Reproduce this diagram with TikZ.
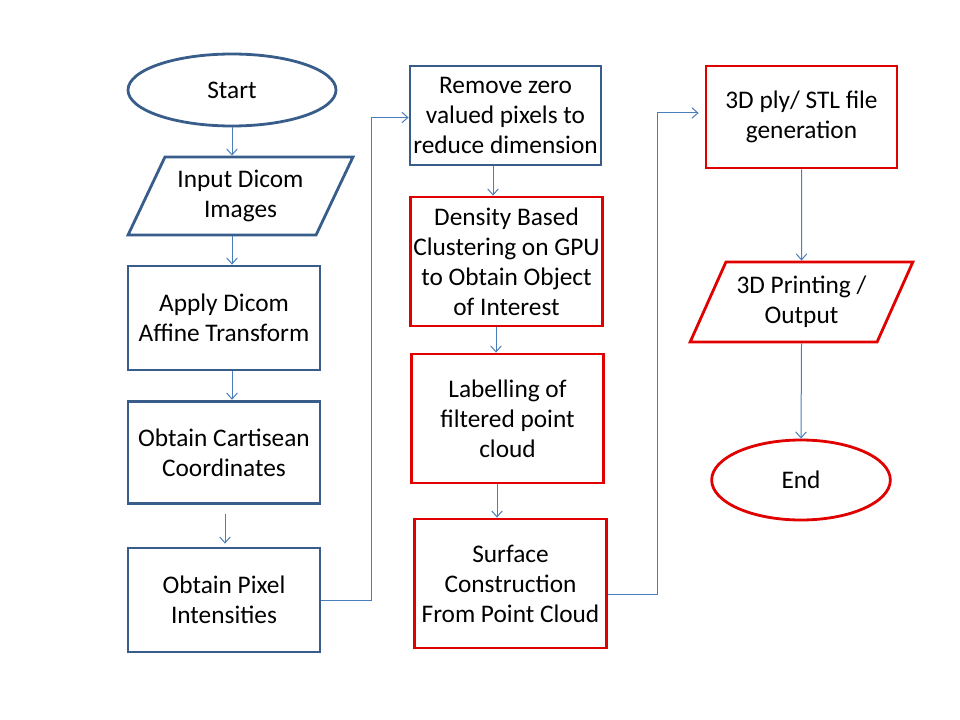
\documentclass[tikz,border=0pt]{standalone}
\usepackage{fontspec}
\setmainfont{Carlito}
\usepackage{tikz}
\usetikzlibrary{arrows.meta,shapes.geometric,calc}
\definecolor{boxblue}{RGB}{56,93,138}
\definecolor{boxred}{RGB}{224,0,0}
\definecolor{linkblue}{RGB}{74,126,187}
\tikzset{
  blk/.style={draw, line width=2.1pt, align=center, inner sep=1pt,
    font=\fontsize{19}{22.5}\selectfont},
  procbox/.style={blk, rectangle, minimum width=144pt, minimum height=78pt},
  termbox/.style={blk, ellipse},
  iobox/.style={blk, trapezium, trapezium left angle=60, trapezium right angle=120,
    trapezium stretches=true},
  link/.style={draw=linkblue, line width=0.75pt, -{Straight Barb[length=4.5pt,width=8pt]}}
}
\begin{document}
\begin{tikzpicture}[x=0.75pt,y=-0.75pt]
\useasboundingbox (0,0) rectangle (960,720);

\node[termbox, draw=boxblue, minimum width=156pt, minimum height=54pt] (start) at (232,90) {Start};
\node[iobox, draw=boxblue, minimum width=168.75pt, minimum height=58.5pt] (input) at (240.5,196) {Input Dicom\\Images};
\node[procbox, draw=boxblue] (apply) at (224,318) {Apply Dicom\\Affine Transform};
\node[procbox, draw=boxblue, minimum height=77pt] (cart) at (224,452.5) {Obtain Cartisean\\Coordinates};
\node[procbox, draw=boxblue] (pixel) at (224,600) {Obtain Pixel\\Intensities};

\node[procbox, draw=boxblue, minimum width=143.25pt, minimum height=74.25pt] (remove) at (505.5,115.5) {Remove zero\\valued pixels to\\reduce dimension};
\node[procbox, draw=boxred, minimum height=96.75pt] (density) at (506.5,261.5) {Density Based\\Clustering on GPU\\to Obtain Object\\of Interest};
\node[procbox, draw=boxred, minimum height=96.75pt] (label) at (507.5,418.5) {Labelling of\\filtered point\\cloud};
\node[procbox, draw=boxred, minimum height=96.75pt] (surface) at (510.5,583.5) {Surface\\Construction\\From Point Cloud};

\node[procbox, draw=boxred, minimum width=143.25pt, minimum height=76.5pt] (ply) at (801.5,117) {3D ply/ STL file\\generation};
\node[iobox, draw=boxred, minimum width=167.25pt, minimum height=60pt] (print) at (801.5,302) {3D Printing /\\Output};
\node[termbox, draw=boxred, minimum width=134pt, minimum height=60pt] (end) at (801,480) {End};

\draw[link] (start.south) -- (start.south |- input.north);
\draw[link] (start.south |- input.south) -- (start.south |- apply.north);
\draw[link] (start.south |- apply.south) -- (start.south |- cart.north);
\draw[link] ($(cart.south)+(1,9)$) -- ($(pixel.north)+(1,-3)$);
\draw[link] (pixel.east) -- ++(50,0) |- ($(remove.west)+(0,2)$);
\draw[link] ($(remove.south)+(-12.5,0)$) -- ($(density.north)+(-13.5,0)$);
\draw[link] ($(density.south)+(-10.5,0)$) -- ($(label.north)+(-11.5,0)$);
\draw[link] ($(label.south)+(-10.5,0)$) -- ($(surface.north)+(-13.5,0)$);
\draw[link] ($(surface.east)+(0,11)$) -- ++(50,0) |- ($(ply.west)+(-6,-4)$);
\draw[link] (ply.south) -- (print.north);
\draw[link] (print.south) -- (end.north);
\end{tikzpicture}
\end{document}
